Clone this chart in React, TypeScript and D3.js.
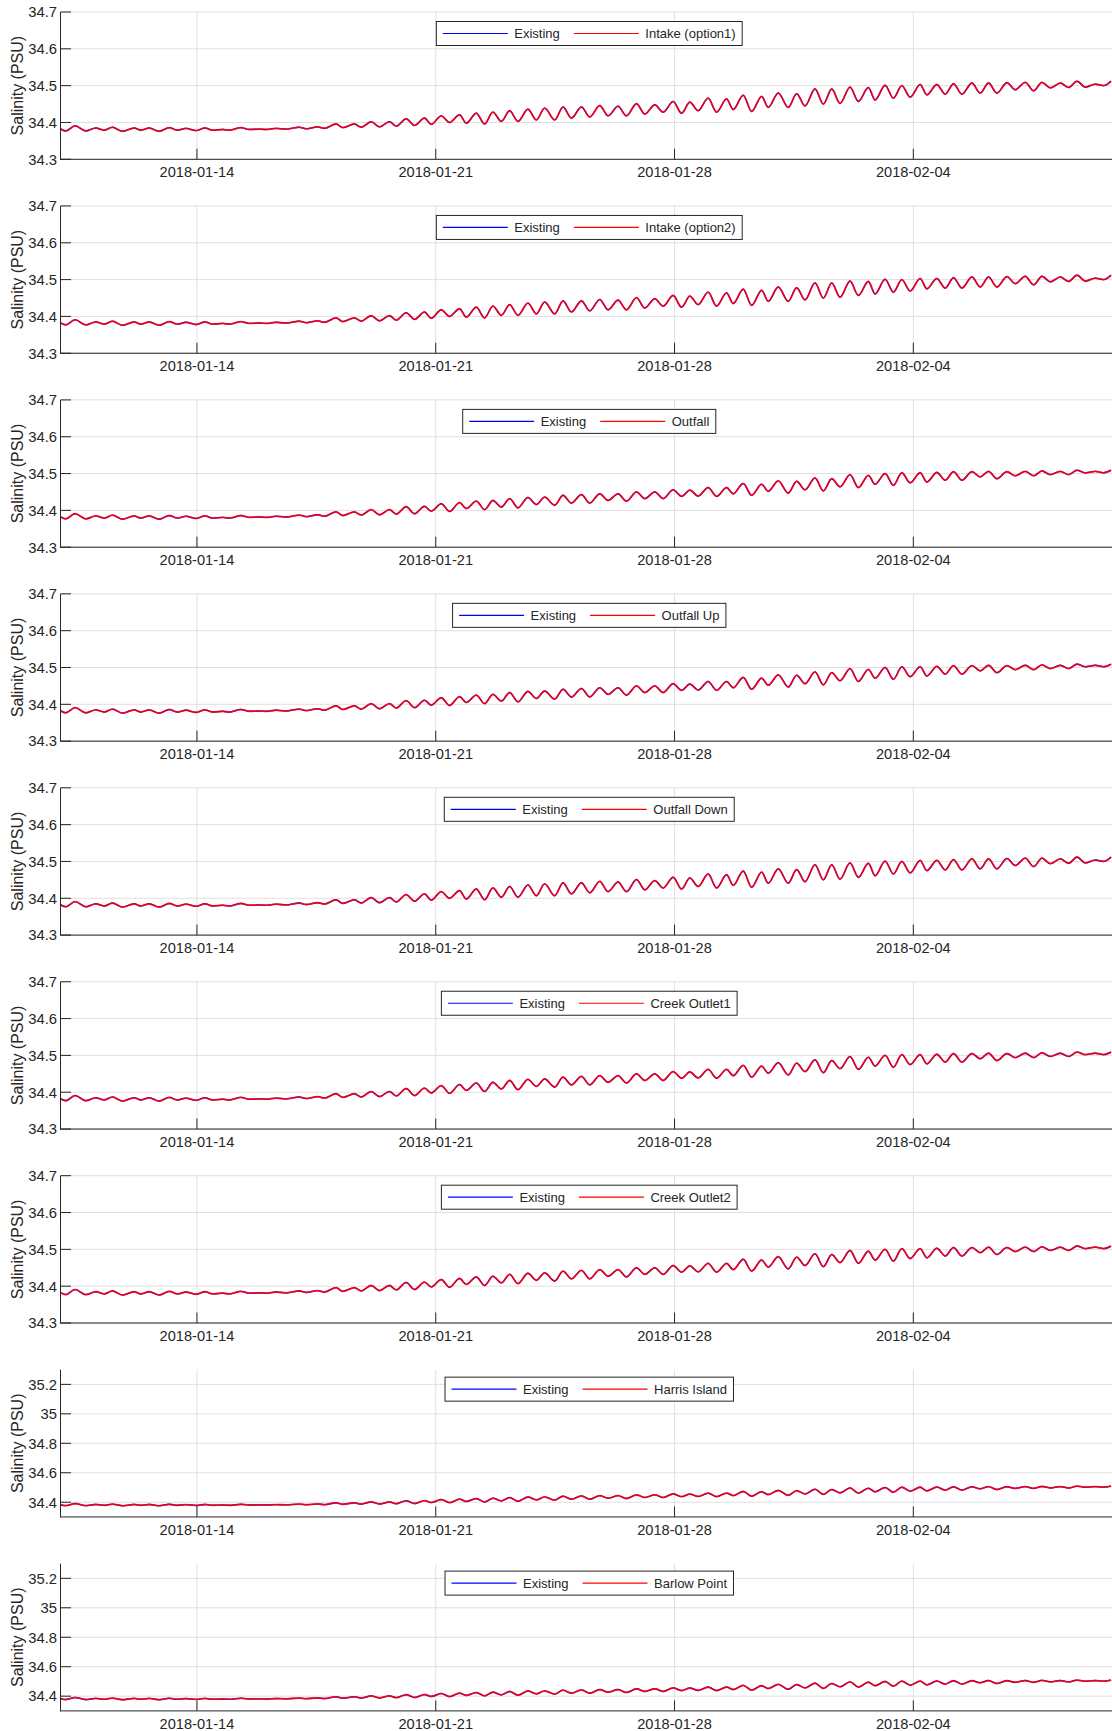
import React from "react";
import * as d3 from "d3";

// Times of successive tidal highs/lows, as decimal day of January 2018 (32 = 1 Feb)
const tideDays = [
  9.958, 10.155, 10.428, 10.742, 11.035, 11.279, 11.522, 11.816, 12.159, 12.356, 12.6, 12.893, 13.187,
  13.43, 13.677, 13.97, 14.235, 14.458, 14.751, 14.948, 15.291, 15.535, 15.828, 16.025, 16.318, 16.612,
  17.002, 17.199, 17.539, 17.736, 18.08, 18.273, 18.617, 18.813, 19.107, 19.351, 19.644, 19.841, 20.134,
  20.378, 20.671, 20.868, 21.162, 21.405, 21.699, 21.895, 22.189, 22.432, 22.676, 22.923, 23.166, 23.41,
  23.703, 23.95, 24.193, 24.487, 24.731, 24.977, 25.271, 25.514, 25.808, 26.051, 26.345, 26.591, 26.885,
  27.128, 27.422, 27.666, 27.959, 28.206, 28.449, 28.693, 28.986, 29.233, 29.526, 29.72, 30.014, 30.26,
  30.554, 30.747, 31.041, 31.334, 31.581, 31.825, 32.118, 32.362, 32.608, 32.852, 33.145, 33.389, 33.683,
  33.879, 34.173, 34.416, 34.663, 34.907, 35.2, 35.397, 35.69, 35.934, 36.178, 36.424, 36.718, 36.961,
  37.205, 37.451, 37.745, 37.988, 38.282, 38.526, 38.772, 39.016, 39.309, 39.553, 39.799, 40.043, 40.336,
  40.58, 40.797,
];

// Salinity (PSU) at each tideDays entry; the two model runs coincide at plotted resolution
const intake1 = [
  34.385, 34.377, 34.391, 34.377, 34.385, 34.379, 34.387, 34.376, 34.385, 34.379, 34.385, 34.376, 34.386,
  34.379, 34.384, 34.378, 34.385, 34.379, 34.381, 34.379, 34.386, 34.381, 34.382, 34.381, 34.384, 34.382,
  34.387, 34.383, 34.388, 34.384, 34.396, 34.386, 34.396, 34.387, 34.402, 34.388, 34.402, 34.39, 34.41,
  34.392, 34.412, 34.395, 34.418, 34.4, 34.421, 34.398, 34.425, 34.396, 34.428, 34.403, 34.432, 34.403,
  34.436, 34.407, 34.439, 34.407, 34.442, 34.412, 34.442, 34.415, 34.446, 34.418, 34.444, 34.418, 34.451,
  34.423, 34.448, 34.428, 34.457, 34.425, 34.455, 34.432, 34.466, 34.428, 34.464, 34.435, 34.474, 34.43,
  34.471, 34.441, 34.48, 34.441, 34.478, 34.445, 34.491, 34.45, 34.491, 34.452, 34.496, 34.457, 34.495,
  34.461, 34.501, 34.466, 34.5, 34.469, 34.503, 34.475, 34.503, 34.477, 34.505, 34.477, 34.507, 34.48,
  34.507, 34.48, 34.508, 34.489, 34.509, 34.486, 34.509, 34.494, 34.507, 34.495, 34.512, 34.496, 34.504,
  34.5, 34.512,
];
const outfall = [
  34.385, 34.377, 34.391, 34.377, 34.385, 34.379, 34.387, 34.376, 34.385, 34.379, 34.385, 34.376, 34.386,
  34.379, 34.384, 34.378, 34.385, 34.379, 34.381, 34.379, 34.386, 34.381, 34.382, 34.381, 34.384, 34.382,
  34.387, 34.383, 34.388, 34.384, 34.396, 34.386, 34.396, 34.387, 34.402, 34.388, 34.402, 34.39, 34.41,
  34.391, 34.411, 34.398, 34.418, 34.397, 34.421, 34.405, 34.425, 34.402, 34.427, 34.409, 34.432, 34.407,
  34.435, 34.416, 34.436, 34.414, 34.441, 34.42, 34.443, 34.42, 34.445, 34.427, 34.445, 34.425, 34.45,
  34.432, 34.45, 34.432, 34.456, 34.438, 34.455, 34.439, 34.462, 34.438, 34.462, 34.445, 34.473, 34.441,
  34.471, 34.452, 34.48, 34.447, 34.479, 34.456, 34.488, 34.453, 34.486, 34.464, 34.497, 34.462, 34.495,
  34.471, 34.5, 34.468, 34.502, 34.475, 34.502, 34.477, 34.503, 34.482, 34.505, 34.482, 34.505, 34.491,
  34.506, 34.486, 34.505, 34.494, 34.506, 34.494, 34.507, 34.497, 34.506, 34.497, 34.509, 34.502, 34.506,
  34.502, 34.509,
];

const siteNames = [
  "Intake (option1)",
  "Intake (option2)",
  "Outfall",
  "Outfall Up",
  "Outfall Down",
  "Creek Outlet1",
  "Creek Outlet2",
  "Harris Island",
  "Barlow Point",
];
const siteSeries = [intake1, intake1, outfall, outfall, intake1, outfall, outfall, outfall, outfall];
const wideScale = [false, false, false, false, false, false, false, true, true];

const narrowDomain = [34.3, 34.7];
const narrowTicks = [34.3, 34.4, 34.5, 34.6, 34.7];
const wideDomain = [34.3, 35.3];
const wideTicks = [34.4, 34.6, 34.8, 35, 35.2];

const dateTicks = ["2018-01-14", "2018-01-21", "2018-01-28", "2018-02-04"];
const timeSpan = ["2018-01-10", "2018-02-10"];

const FONT = "'Liberation Sans', Arial, Helvetica, sans-serif";
const INK = "#262626";
const GRID = "#e0e0e0";

const W = 1112;
const H = 1731;
const LEFT = 60.5;
const RIGHT = 1118;
const TOP0 = 12;
const PITCH = 193.95;
const PANEL_H = 147.3;

const dayToDate = (d: number) => new Date(Date.UTC(2018, 0, 1) + (d - 1) * 864e5);
const isoToDate = (s: string) => new Date(s + "T00:00:00Z");

let measureCtx: CanvasRenderingContext2D | null = null;
function textWidth(s: string, size: number) {
  if (!measureCtx && typeof document !== "undefined") {
    measureCtx = document.createElement("canvas").getContext("2d");
  }
  if (measureCtx) {
    measureCtx.font = `${size}px ${FONT}`;
    return measureCtx.measureText(s).width;
  }
  return s.length * size * 0.52;
}

const x = d3
  .scaleUtc()
  .domain(timeSpan.map(isoToDate))
  .range([LEFT, RIGHT]);

function Panel({ index }: { index: number }) {
  const top = TOP0 + index * PITCH;
  const bottom = top + PANEL_H;
  const wide = wideScale[index];
  const y = d3
    .scaleLinear()
    .domain(wide ? wideDomain : narrowDomain)
    .range([bottom, top]);
  const yTicks = wide ? wideTicks : narrowTicks;
  const values = siteSeries[index];
  const pts = tideDays.map((d, i) => [x(dayToDate(d)), y(values[i])] as [number, number]);
  const line = d3.line().curve(d3.curveMonotoneX)(pts) || "";
  const clipId = `clip-${index}`;

  // legend layout
  const name = siteNames[index];
  const fs = 13;
  const w1 = textWidth("Existing", fs);
  const w2 = textWidth(name, fs);
  const pad = 6.5;
  const lineLen = 65;
  const gap = 6.5;
  const between = 14;
  const boxW = pad + lineLen + gap + w1 + between + lineLen + gap + w2 + pad;
  const boxX = (LEFT + RIGHT) / 2 - boxW / 2;
  const boxY = top + (wide ? 7.5 : 9.5);
  const boxH = 24;
  const cy = boxY + boxH / 2;
  const l1x = boxX + pad;
  const t1x = l1x + lineLen + gap;
  const l2x = t1x + w1 + between;
  const t2x = l2x + lineLen + gap;

  const fmt = (v: number) => d3.format("")(+v.toFixed(1));

  return (
    <g>
      <defs>
        <clipPath id={clipId}>
          <rect x={LEFT} y={top} width={RIGHT - LEFT} height={PANEL_H} />
        </clipPath>
      </defs>
      {/* grid */}
      {yTicks.map((t) => (
        <line key={"gy" + t} x1={LEFT} x2={RIGHT} y1={y(t)} y2={y(t)} stroke={GRID} strokeWidth={1} />
      ))}
      {dateTicks.map((t) => (
        <line
          key={"gx" + t}
          x1={x(isoToDate(t))}
          x2={x(isoToDate(t))}
          y1={top}
          y2={bottom}
          stroke={GRID}
          strokeWidth={1}
        />
      ))}
      {/* series: existing (blue) underneath, option (red) on top */}
      <g clipPath={`url(#${clipId})`}>
        <path d={line} fill="none" stroke="#0000ff" strokeWidth={1.4} strokeLinejoin="round" />
        <path d={line} fill="none" stroke="#ff0000" strokeOpacity={0.88} strokeWidth={1.7} strokeLinejoin="round" />
      </g>
      {/* axes */}
      <line x1={LEFT} x2={LEFT} y1={top} y2={bottom + 0.5} stroke={INK} strokeWidth={1} />
      <line x1={LEFT} x2={RIGHT} y1={bottom} y2={bottom} stroke={INK} strokeWidth={1} />
      {yTicks.map((t) => (
        <g key={"ty" + t}>
          <line x1={LEFT} x2={LEFT + 10.5} y1={y(t)} y2={y(t)} stroke={INK} strokeWidth={1} />
          <text
            x={LEFT - 3.5}
            y={y(t)}
            dy="0.36em"
            textAnchor="end"
            fontFamily={FONT}
            fontSize={14.8}
            fill={INK}
          >
            {fmt(t)}
          </text>
        </g>
      ))}
      {dateTicks.map((t) => (
        <g key={"tx" + t}>
          <line
            x1={x(isoToDate(t))}
            x2={x(isoToDate(t))}
            y1={bottom}
            y2={bottom - 10.5}
            stroke={INK}
            strokeWidth={1}
          />
          <text
            x={x(isoToDate(t))}
            y={bottom + 18}
            textAnchor="middle"
            fontFamily={FONT}
            fontSize={14.6}
            fill={INK}
          >
            {d3.utcFormat("%Y-%m-%d")(isoToDate(t))}
          </text>
        </g>
      ))}
      <text
        transform={`translate(23,${(top + bottom) / 2}) rotate(-90)`}
        textAnchor="middle"
        fontFamily={FONT}
        fontSize={16}
        fill={INK}
      >
        Salinity (PSU)
      </text>
      {/* legend */}
      <rect x={boxX} y={boxY} width={boxW} height={boxH} fill="#ffffff" stroke={INK} strokeWidth={1} />
      <line x1={l1x} x2={l1x + lineLen} y1={cy} y2={cy} stroke="#0000ff" strokeWidth={1.2} />
      <text x={t1x} y={cy + 4.6} fontFamily={FONT} fontSize={fs} fill={INK}>
        Existing
      </text>
      <line x1={l2x} x2={l2x + lineLen} y1={cy} y2={cy} stroke="#ff0000" strokeWidth={1.2} />
      <text x={t2x} y={cy + 4.6} fontFamily={FONT} fontSize={fs} fill={INK}>
        {name}
      </text>
    </g>
  );
}

export default function App() {
  return (
    <svg
      width={W}
      height={H}
      viewBox={`0 0 ${W} ${H}`}
      style={{ position: "absolute", left: 0, top: 0, background: "#ffffff" }}
    >
      <rect x={0} y={0} width={W} height={H} fill="#ffffff" />
      {siteNames.map((_, i) => (
        <Panel key={i} index={i} />
      ))}
    </svg>
  );
}
